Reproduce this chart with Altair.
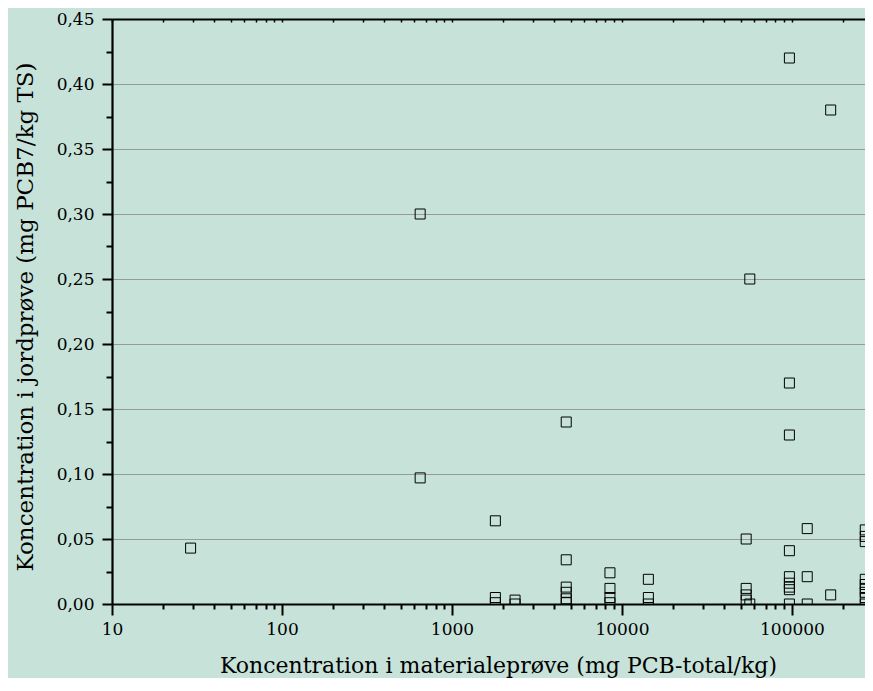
import altair as alt
import pandas as pd

# ---- data ----
x_values = [
    29,
    650, 650,
    1800, 1800, 1800,
    2350, 2350,
    4700, 4700, 4700, 4700, 4700, 4700,
    8500, 8500, 8500, 8500,
    14300, 14300, 14300,
    53800, 53800, 53800, 53800,
    56500, 56500,
    96600, 96600, 96600, 96600, 96600, 96600, 96600, 96600, 96600,
    123000, 123000, 123000,
    169000, 169000,
    270000, 270000, 270000, 270000, 270000, 270000, 270000, 270000, 270000,
]
y_values = [
    0.043,
    0.300, 0.097,
    0.064, 0.005, 0.001,
    0.003, 0.0,
    0.140, 0.034, 0.013, 0.009, 0.004, 0.001,
    0.024, 0.012, 0.005, 0.001,
    0.019, 0.005, 0.0,
    0.050, 0.012, 0.007, 0.003,
    0.250, 0.0,
    0.420, 0.170, 0.130, 0.041, 0.021, 0.016, 0.013, 0.011, 0.0,
    0.058, 0.021, 0.0,
    0.380, 0.007,
    0.057, 0.052, 0.048, 0.019, 0.015, 0.012, 0.009, 0.005, 0.0,
]

x_major_ticks = [10, 100, 1000, 10000, 100000]
x_minor_ticks = [m * d for d in [10, 100, 1000, 10000, 100000] for m in range(2, 10)]
x_all_ticks = sorted(x_major_ticks + x_minor_ticks)
y_major_ticks = [0.0, 0.05, 0.10, 0.15, 0.20, 0.25, 0.30, 0.35, 0.40, 0.45]
y_minor_ticks = [0.025, 0.075, 0.125, 0.175, 0.225, 0.275, 0.325, 0.375, 0.425]

x_title = "Koncentration i materialeprøve (mg PCB-total/kg)"
y_title = "Koncentration i jordprøve (mg PCB7/kg TS)"

df = pd.DataFrame({"x": x_values, "y": y_values})

FONT = "DejaVu Serif"
W, H = 753, 585
x_scale = alt.Scale(type="log", domain=[10, 269000], nice=False)
y_scale = alt.Scale(domain=[0, 0.45], nice=False, zero=False)

base = alt.Chart(df)

points = base.mark_point(
    shape="square", filled=False, stroke="black", strokeWidth=1,
    size=100, clip=True, opacity=1
).encode(
    x=alt.X("x:Q", scale=x_scale, axis=alt.Axis(
        orient="bottom", values=x_major_ticks, title=x_title,
        labelExpr="format(datum.value, 'd')",
        tickSize=11, tickWidth=2, tickColor="black",
        domainColor="black", domainWidth=2.2, grid=False,
        labelFont=FONT, labelFontSize=17, labelColor="black",
        labelPadding=6, labelBaseline="top",
        titleFont=FONT, titleFontSize=22, titleFontWeight="normal",
        titleColor="black", titleBaseline="alphabetic",
        titleX=386, titleY=68, titleAnchor="middle", titleAlign="center",
        labelFlush=False, labelOverlap=False)),
    y=alt.Y("y:Q", scale=y_scale, axis=alt.Axis(
        orient="left", values=y_major_ticks, title=y_title,
        labelExpr="replace(format(datum.value, '.2f'), '.', ',')",
        tickSize=10, tickWidth=2, tickColor="black",
        domainColor="black", domainWidth=2.2,
        grid=True, gridColor="#999999", gridWidth=1.2,
        labelFont=FONT, labelFontSize=17, labelColor="black",
        labelPadding=8, labelFlush=False, labelOverlap=False,
        titleFont=FONT, titleFontSize=23, titleFontWeight="normal",
        titleColor="black", titleX=-87, titleY=H / 2 + 5,
        titleAngle=270, titleAlign="center", titleBaseline="middle")),
)

minor = base.mark_point(opacity=0).encode(
    x=alt.X("x:Q", scale=x_scale, axis=alt.Axis(
        orient="bottom", values=x_minor_ticks, title=None, labels=False,
        tickSize=5, tickWidth=2, tickColor="black", domain=False, grid=False)),
    y=alt.Y("y:Q", scale=y_scale, axis=alt.Axis(
        orient="left", values=y_minor_ticks, title=None, labels=False,
        tickSize=6, tickWidth=2, tickColor="black", domain=False, grid=False)),
)

top = base.mark_point(opacity=0).encode(
    x=alt.X("x:Q", scale=x_scale, axis=alt.Axis(
        orient="bottom", offset=-H, values=x_all_ticks, title=None, labels=False,
        tickSize=3, tickWidth=1.5, tickColor="black",
        domainColor="black", domainWidth=2.2, grid=False)),
    y=alt.Y("y:Q", scale=y_scale, axis=None),
)

chart = alt.layer(points, minor, top).resolve_axis(
    x="independent", y="independent"
).properties(
    width=W, height=H,
    autosize=alt.AutoSizeParams(type="none"),
    padding={"left": 104, "top": 11, "right": 0, "bottom": 74},
    background="#c7e3d9",
).configure_view(stroke=None)

chart.save("out.html", embed_options={"renderer": "svg", "actions": False})
